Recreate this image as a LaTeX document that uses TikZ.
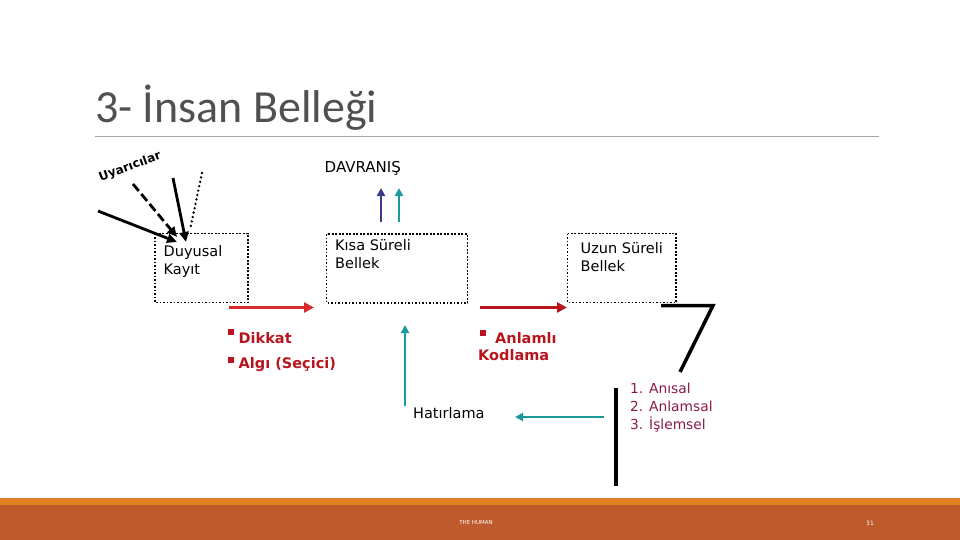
\documentclass[tikz,border=0pt]{standalone}
\usepackage{fontspec}
\setmainfont{DejaVu Sans}
\newfontfamily\titlefont{Carlito}
\usetikzlibrary{arrows.meta}
\definecolor{titlegray}{HTML}{505050}
\definecolor{barorange}{HTML}{E0801E}
\definecolor{barbrown}{HTML}{BE5A2C}
\definecolor{dred}{HTML}{B8141E}
\definecolor{lred}{HTML}{D82A2A}
\definecolor{tealc}{HTML}{1A9A9A}
\definecolor{bluec}{HTML}{3A3A8C}
\definecolor{plum}{HTML}{8A1A4A}
\tikzset{
  membox/.style={draw, line width=1.8pt, dash pattern=on 1.6pt off 1.9pt},
  lbl/.style={font=\fontsize{14.5}{17.5}\selectfont, align=left, anchor=north west, inner sep=0pt},
  redlbl/.style={font=\bfseries\fontsize{14.5}{17}\selectfont, text=dred, align=left, anchor=west, inner sep=0pt},
  sq/.style={fill=dred, minimum size=6pt, inner sep=0pt},
  thickarrow/.style={line width=3.5pt, -{Triangle[length=10pt,width=10pt]}},
  thinarrow/.style={line width=2.4pt, -{Triangle[length=8pt,width=8pt]}},
  stim/.style={line width=2.8pt, -{Triangle[length=10pt,width=9pt]}},
  blackbar/.style={line width=3.5pt},
}
\begin{document}
\begin{tikzpicture}[x=1pt,y=-1pt]
\useasboundingbox (0,0) rectangle (960,540);
% title
\node[anchor=base west, inner sep=0pt, text=titlegray, font=\titlefont\fontsize{46}{50}\selectfont] (title) at (95,123) {3- İnsan Belleği};
\draw[gray!70, line width=0.8pt] (95,136.5) coordinate (tl) -- (879,136.5) coordinate (tr);
% bottom bar
\fill[barorange] (0,498) rectangle (960,505);
\fill[barbrown] (0,505) rectangle (960,540);
\node[text=white, font=\fontsize{5.5}{6}\selectfont, inner sep=0pt] (foot) at (476,523) {THE HUMAN};
\node[text=white, font=\fontsize{6}{7}\selectfont, inner sep=0pt] (page) at (870,523) {31};

% boxes
\draw[membox] (155,233.5) rectangle (248,302.5);
\node[lbl] (dktext) at (163.5,245.5) {Duyusal\\Kayıt};
\draw[membox] (326.5,234) rectangle (467.5,303);
\node[lbl] (kstext) at (335,239.5) {Kısa Süreli\\Bellek};
\draw[membox] (567.5,233.5) rectangle (676,302.5);
\node[lbl] (ustext) at (580.5,242.5) {Uzun Süreli\\Bellek};

% DAVRANIŞ
\node[font=\fontsize{15}{17}\selectfont, anchor=base west, inner sep=0pt] (davr) at (324.5,172) {DAVRANIŞ};
\coordinate (b1s) at (381,222); \coordinate (b1e) at (381,188);
\coordinate (b2s) at (399,222); \coordinate (b2e) at (399,188);
\draw[thinarrow, bluec] (b1s) -- (b1e);
\draw[thinarrow, tealc] (b2s) -- (b2e);

% red arrows
\coordinate (r1s) at (229,307.5); \coordinate (r1e) at (314,307.5);
\draw[thickarrow, lred] (r1s) -- (r1e);
\coordinate (r2s) at (480,307.5); \coordinate (r2e) at (567,307.5);
\draw[thickarrow, dred] (r2s) -- (r2e);

% red labels
\node[sq] (sq1) at (231,332) {};
\node[redlbl] (dikkat) at (238.5,338) {Dikkat};
\node[sq] (sq2) at (231,359.5) {};
\node[redlbl] (algi) at (238.5,364.5) {Algı (Seçici)};
\node[sq] (sq3) at (482.5,332.5) {};
\node[redlbl] (anl) at (495,338.5) {Anlamlı};
\node[redlbl] (kod) at (478,355) {Kodlama};

% Hatirlama
\coordinate (hs) at (405,406); \coordinate (he) at (405,325);
\draw[thinarrow, tealc] (hs) -- (he);
\node[lbl, anchor=west] (hat) at (413,413) {Hatırlama};
\coordinate (tls) at (604,417); \coordinate (tle) at (515,417);
\draw[thinarrow, tealc] (tls) -- (tle);

% black lines
\draw[blackbar] (616,388) -- (616,486);
\draw[blackbar, line join=miter] (661,305.5) -- (713,305.5) -- (680,372);

% list
\node[lbl, font=\fontsize{13.8}{18}\selectfont, text=plum] (list) at (630,383) {1. Anısal\\2. Anlamsal\\3. İşlemsel};

% stimuli
\node[rotate=20, font=\bfseries\fontsize{12}{14}\selectfont, inner sep=0pt] (uyar) at (130,167) {Uyarıcılar};
\coordinate (s1a) at (98,211); \coordinate (s1b) at (177,242);
\draw[stim] (s1a) -- (s1b);
\coordinate (s2a) at (133,184); \coordinate (s2b) at (177,237);
\draw[stim, dash pattern=on 9pt off 4pt] (s2a) -- (s2b);
\coordinate (s3a) at (173,178); \coordinate (s3b) at (186,242);
\draw[stim] (s3a) -- (s3b);
\coordinate (s4a) at (202,173); \coordinate (s4b) at (190,230);
\draw[line width=2.6pt, line cap=round, dash pattern=on 0pt off 4.5pt] (s4a) -- (s4b);
\end{tikzpicture}
\end{document}
